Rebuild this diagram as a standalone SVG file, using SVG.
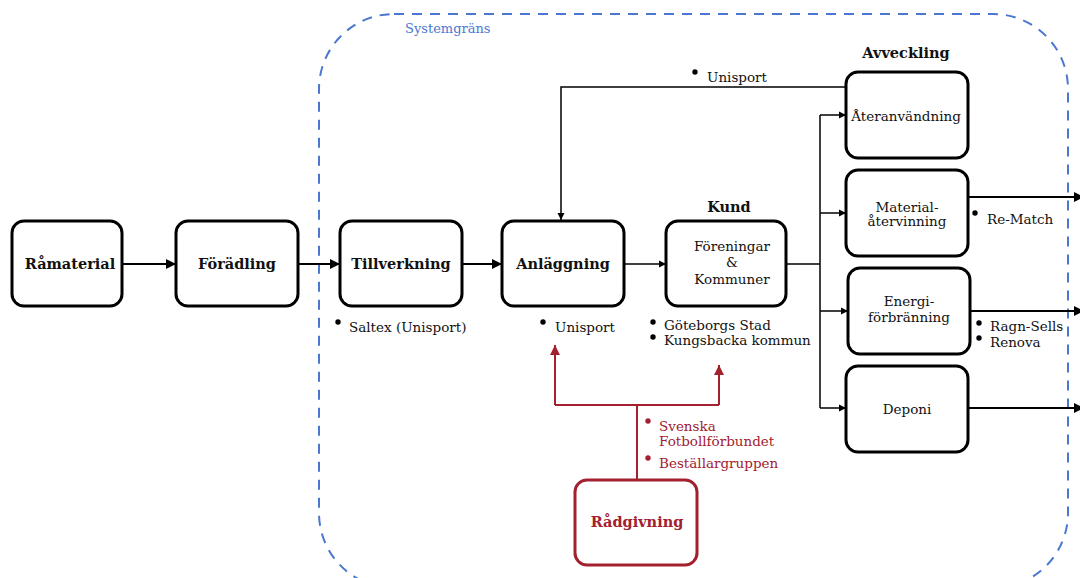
<svg xmlns="http://www.w3.org/2000/svg" width="1080" height="578" viewBox="0 0 1080 578">
<defs>
<style>
.box{fill:#fff;stroke:#000;stroke-width:3}
.rbox{fill:#fff;stroke:#a3202f;stroke-width:3}
.t{font-family:"DejaVu Serif","Liberation Serif",serif;font-size:13.5px;fill:#111}
.b{font-family:"DejaVu Serif","Liberation Serif",serif;font-size:14.5px;font-weight:bold;fill:#111}
.r{fill:#a3202f}
.ln{fill:none;stroke:#000;stroke-width:2}
.ln1{fill:none;stroke:#000;stroke-width:1.5}
.rl{fill:none;stroke:#a3202f;stroke-width:2}
.dot{fill:#000}
</style>
<marker id="ah" viewBox="0 0 10 10" refX="10" refY="5" markerWidth="5" markerHeight="5" orient="auto"><path d="M0,0L10,5L0,10z" fill="#000"/></marker>
<marker id="rah" viewBox="0 0 10 10" refX="10" refY="5" markerWidth="5" markerHeight="5" orient="auto"><path d="M0,0L10,5L0,10z" fill="#a3202f"/></marker>
</defs>
<rect width="1080" height="578" fill="#fff"/>
<g id="systemgrans">
<rect x="319" y="14" width="749" height="574" rx="75" fill="none" stroke="#4a78d0" stroke-width="2" stroke-dasharray="10,8"/>
<text x="405" y="33" class="t" style="fill:#4a78d0;font-size:13px">Systemgräns</text>
</g>
<g id="connectors">
<path class="ln" d="M122,264H176" marker-end="url(#ah)"/>
<path class="ln" d="M298,264H340" marker-end="url(#ah)"/>
<path class="ln" d="M462,264H502" marker-end="url(#ah)"/>
<path class="ln1" d="M624,264H666" marker-end="url(#ah)"/>
<path class="ln1" d="M786,264H820"/>
<path class="ln1" d="M820,115V408"/>
<path class="ln1" d="M820,115H846" marker-end="url(#ah)"/>
<path class="ln1" d="M820,213H846" marker-end="url(#ah)"/>
<path class="ln1" d="M820,311H848" marker-end="url(#ah)"/>
<path class="ln1" d="M820,408H846" marker-end="url(#ah)"/>
<path class="ln1" d="M846,87H561V220" marker-end="url(#ah)"/>
<path class="ln" d="M968,197H1084" marker-end="url(#ah)"/>
<path class="ln" d="M970,311H1084" marker-end="url(#ah)"/>
<path class="ln" d="M968,408H1084" marker-end="url(#ah)"/>
<path class="rl" d="M637,480V405"/>
<path class="rl" d="M555,405H719"/>
<path class="rl" d="M555,405V345" marker-end="url(#rah)"/>
<path class="rl" d="M719,405V365" marker-end="url(#rah)"/>
</g>
<g id="ramaterial"><rect class="box" x="12" y="221" width="110" height="85" rx="12"/><text class="b" x="70" y="269" text-anchor="middle">Råmaterial</text></g>
<g id="foradling"><rect class="box" x="176" y="221" width="122" height="85" rx="12"/><text class="b" x="237" y="269" text-anchor="middle">Förädling</text></g>
<g id="tillverkning"><rect class="box" x="340" y="221" width="122" height="85" rx="12"/><text class="b" x="401" y="269" text-anchor="middle">Tillverkning</text>
<circle class="dot" cx="338" cy="322" r="2.7"/><text class="t" x="349" y="332">Saltex (Unisport)</text></g>
<g id="anlaggning"><rect class="box" x="502" y="221" width="122" height="85" rx="12"/><text class="b" x="563" y="269" text-anchor="middle">Anläggning</text>
<circle class="dot" cx="543" cy="322" r="2.7"/><text class="t" x="555" y="332">Unisport</text></g>
<g id="kund"><text class="b" x="729" y="212" text-anchor="middle">Kund</text>
<rect class="box" x="666" y="221" width="120" height="85" rx="12"/>
<text class="t" x="732" y="251" text-anchor="middle">Föreningar</text><text class="t" x="732" y="267" text-anchor="middle">&amp;</text><text class="t" x="732" y="284" text-anchor="middle">Kommuner</text>
<circle class="dot" cx="653" cy="322" r="2.7"/><text class="t" x="664" y="330">Göteborgs Stad</text>
<circle class="dot" cx="653" cy="337" r="2.7"/><text class="t" x="664" y="345">Kungsbacka kommun</text></g>
<g id="ateranvandning"><text class="b" x="906" y="58" text-anchor="middle">Avveckling</text>
<rect class="box" x="846" y="72" width="122" height="86" rx="12"/><text class="t" x="906" y="121" text-anchor="middle">Återanvändning</text>
<circle class="dot" cx="695" cy="72" r="2.7"/><text class="t" x="707" y="82">Unisport</text></g>
<g id="materialatervinning"><rect class="box" x="846" y="170" width="122" height="86" rx="12"/><text class="t" x="907" y="212" text-anchor="middle">Material-</text><text class="t" x="907" y="226" text-anchor="middle">återvinning</text>
<circle class="dot" cx="975" cy="213" r="2.7"/><text class="t" x="987" y="224">Re-Match</text></g>
<g id="energiforbranning"><rect class="box" x="848" y="268" width="122" height="86" rx="12"/><text class="t" x="909" y="306" text-anchor="middle">Energi-</text><text class="t" x="909" y="322" text-anchor="middle">förbränning</text>
<circle class="dot" cx="979" cy="323" r="2.7"/><text class="t" x="990" y="331">Ragn-Sells</text>
<circle class="dot" cx="979" cy="338" r="2.7"/><text class="t" x="990" y="347">Renova</text></g>
<g id="deponi"><rect class="box" x="846" y="366" width="122" height="86" rx="12"/><text class="t" x="907" y="414" text-anchor="middle">Deponi</text></g>
<g id="radgivning"><rect class="rbox" x="575" y="480" width="122" height="85" rx="12"/><text class="b r" x="637" y="527" text-anchor="middle">Rådgivning</text>
<circle class="r" cx="648" cy="421" r="2.7"/><text class="t r" x="659" y="431">Svenska</text><text class="t r" x="659" y="446">Fotbollförbundet</text>
<circle class="r" cx="648" cy="458" r="2.7"/><text class="t r" x="659" y="468">Beställargruppen</text></g>
</svg>
